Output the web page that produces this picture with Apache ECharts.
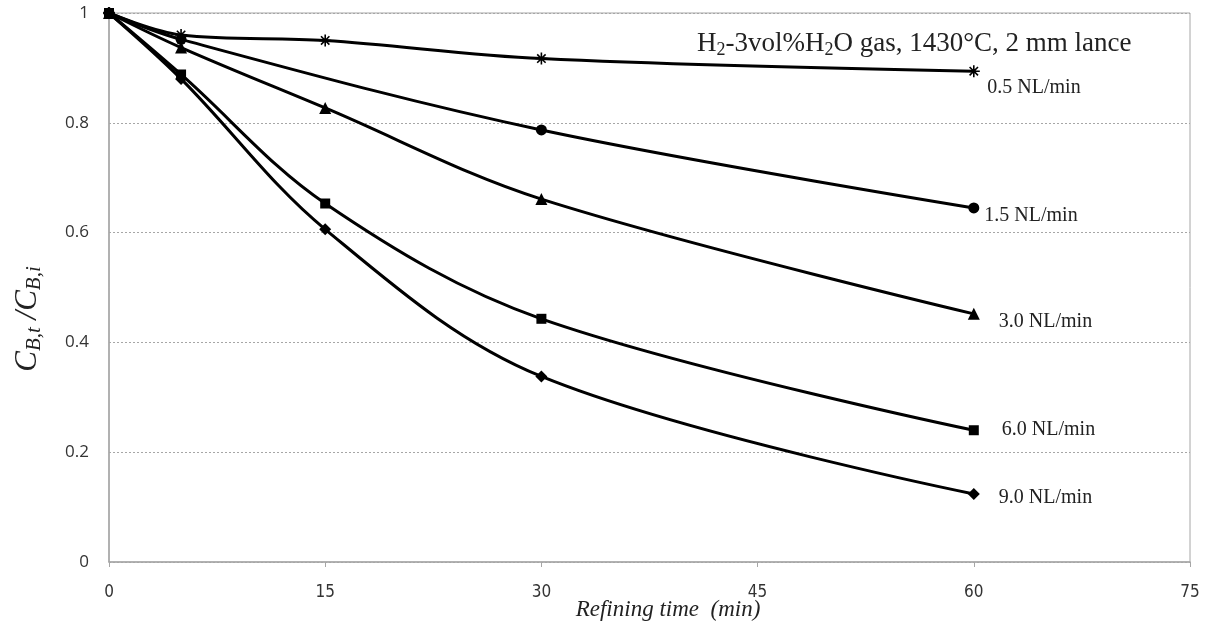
<!DOCTYPE html>
<html>
<head>
<meta charset="utf-8">
<script src="https://cdn.jsdelivr.net/npm/echarts@6/dist/echarts.min.js"></script>
<style>
  html, body { margin: 0; padding: 0; background: #fff; }
  #chart { width: 1212px; height: 632px; }
</style>
</head>
<body>
<div id="chart"></div>
<script>
// Boron ratio C_B,t / C_B,i versus refining time for five gas flow rates
const seriesNames = ['0.5 NL/min', '1.5 NL/min', '3.0 NL/min', '6.0 NL/min', '9.0 NL/min'];
const flow05 = [[0, 1], [5, 0.960], [15, 0.950], [30, 0.917], [60, 0.894]];
const flow15 = [[0, 1], [5, 0.952], [30, 0.787], [60, 0.645]];
const flow30 = [[0, 1], [5, 0.937], [15, 0.827], [30, 0.661], [60, 0.452]];
const flow60 = [[0, 1], [5, 0.888], [15, 0.653], [30, 0.443], [60, 0.240]];
const flow90 = [[0, 1], [5, 0.880], [15, 0.606], [30, 0.338], [60, 0.124]];
const xTicks = [0, 15, 30, 45, 60, 75];
const yTicks = [0, 0.2, 0.4, 0.6, 0.8, 1];

const asterisk = 'path://M0,5L10,5M5,0L5,10M1.5,1.5L8.5,8.5M8.5,1.5L1.5,8.5';
const markers = [asterisk, 'circle', 'triangle', 'rect', 'diamond'];
const markerSizes = [12, 11, 12, 10, 12];
const labelOffsets = [[0, 17], [0, 8], [14, 8], [18, 0], [14, 4]];
const allData = [flow05, flow15, flow30, flow60, flow90];

const serifFont = '"Liberation Serif", "DejaVu Serif", serif';

const series = allData.map((d, i) => ({
  name: seriesNames[i],
  type: 'line',
  data: d.map((p, j) => ({
    value: p,
    label: j === d.length - 1 ? {
      show: true,
      position: 'right',
      offset: labelOffsets[i],
      formatter: seriesNames[i],
      fontFamily: serifFont,
      fontSize: 20,
      color: '#222'
    } : { show: false }
  })),
  smooth: 0.35,
  symbol: markers[i],
  symbolSize: markerSizes[i],
  showAllSymbol: true,
  lineStyle: { color: '#000', width: 3 },
  itemStyle: i === 0
    ? { color: 'none', borderColor: '#000', borderWidth: 1.6 }
    : { color: '#000', borderWidth: 0 },
  emphasis: { disabled: true },
  z: 3
}));

const chart = echarts.init(document.getElementById('chart'), null, { renderer: 'canvas' });
chart.setOption({
  animation: false,
  backgroundColor: '#fff',
  grid: { left: 109, right: 22, top: 13, bottom: 70, show: true, borderColor: '#a6a6a6', borderWidth: 1 },
  xAxis: {
    type: 'value',
    min: xTicks[0],
    max: xTicks[xTicks.length - 1],
    interval: 15,
    axisLine: { show: true, lineStyle: { color: '#a6a6a6', width: 1.5 } },
    axisTick: { show: true, inside: false, length: 5, lineStyle: { color: '#a6a6a6' } },
    splitLine: { show: false },
    axisLabel: {
      color: '#333',
      fontSize: 17,
      fontFamily: '"Liberation Sans Narrow", "DejaVu Sans Condensed", "Open Sans", sans-serif',
      margin: 22
    }
  },
  yAxis: {
    type: 'value',
    min: yTicks[0],
    max: yTicks[yTicks.length - 1],
    interval: 0.2,
    axisLine: { show: true, lineStyle: { color: '#a6a6a6', width: 1.5 } },
    axisTick: { show: false },
    splitLine: { show: true, lineStyle: { color: '#a6a6a6', type: [2, 2], width: 1 } },
    axisLabel: {
      color: '#333',
      fontSize: 17,
      fontFamily: '"Open Sans", "Noto Sans", sans-serif',
      margin: 20
    }
  },
  graphic: [
    {
      type: 'text',
      x: 28,
      y: 319,
      rotation: Math.PI / 2,
      style: {
        text: '{m|C}{s|B,t}{m| /C}{s|B,i}',
        align: 'center',
        verticalAlign: 'middle',
        rich: {
          m: { fontFamily: serifFont, fontStyle: 'italic', fontSize: 31, fill: '#222' },
          s: { fontFamily: serifFont, fontStyle: 'italic', fontSize: 21, fill: '#222', padding: [12, 0, 0, 0] }
        }
      }
    },
    {
      type: 'text',
      x: 668,
      y: 610,
      style: {
        text: 'Refining time  (min)',
        align: 'center',
        verticalAlign: 'middle',
        fontFamily: serifFont,
        fontStyle: 'italic',
        fontSize: 23,
        fill: '#222'
      }
    },
    {
      type: 'text',
      x: 697,
      y: 44,
      style: {
        text: '{m|H}{s|2}{m|-3vol%H}{s|2}{m|O gas, 1430°C, 2 mm lance}',
        align: 'left',
        verticalAlign: 'middle',
        rich: {
          m: { fontFamily: serifFont, fontSize: 27, fill: '#222' },
          s: { fontFamily: serifFont, fontSize: 18, fill: '#222', padding: [12, 0, 0, 0] }
        }
      }
    }
  ],
  series: series
});
</script>
</body>
</html>
